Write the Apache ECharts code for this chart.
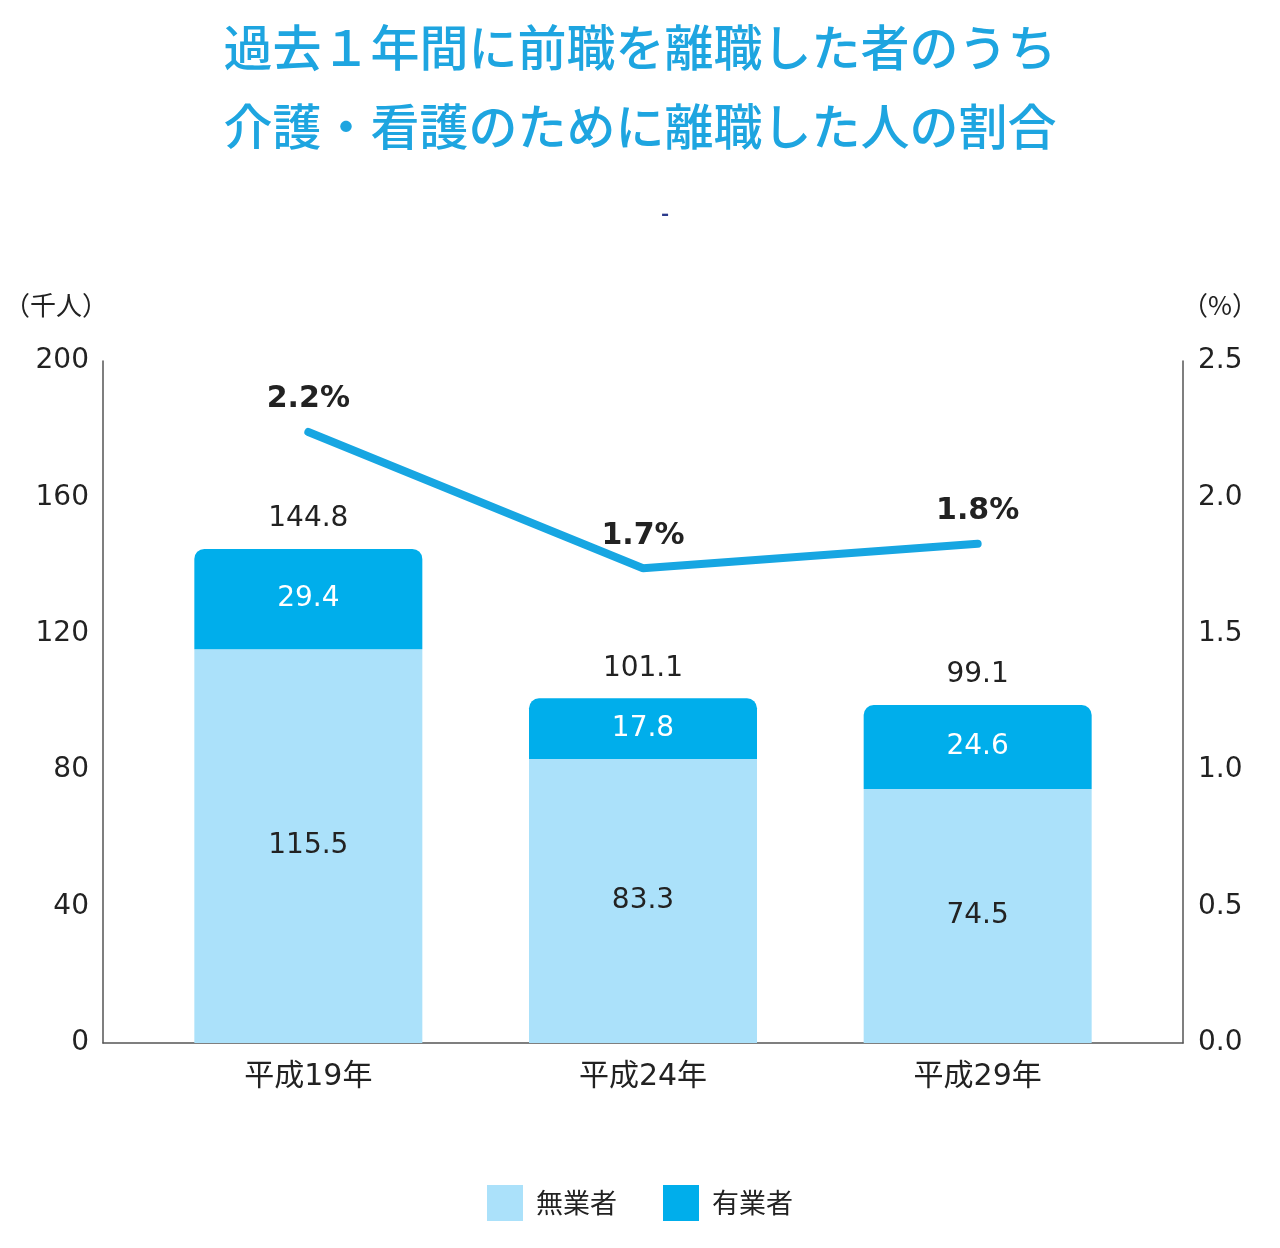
<!DOCTYPE html>
<html>
<head>
<meta charset="utf-8">
<script src="https://cdn.jsdelivr.net/npm/echarts@6/dist/echarts.min.js"></script>
<style>
  html, body { margin: 0; padding: 0; background: #fff; }
  #chart { width: 1280px; height: 1248px; }
</style>
</head>
<body>
<div id="chart"></div>
<script>
// data
const years = ['平成19年', '平成24年', '平成29年'];
const mugyo = [115.5, 83.3, 74.5];   // 無業者 (千人)
const yugyo = [29.4, 17.8, 24.6];    // 有業者 (千人)
const ratio = [2.24, 1.74, 1.83];    // 割合 (%)
const totals = [144.8, 101.1, 99.1];

const jp = '"Noto Sans CJK JP", "Noto Sans", sans-serif';
const num = '"DejaVu Sans", "Noto Sans CJK JP", sans-serif';
const chart = echarts.init(document.getElementById('chart'));

const option = {
  textStyle: { fontFamily: num },
  title: {
    text: '過去１年間に前職を離職した者のうち\n介護・看護のために離職した人の割合',
    left: 'center', top: 3,
    textStyle: { color: '#1ea5e0', fontSize: 49, fontWeight: 500, lineHeight: 79, fontFamily: jp }
  },
  legend: {
    bottom: 22, left: 'center',
    data: ['無業者', '有業者'],
    icon: 'rect', itemWidth: 36, itemHeight: 36, itemGap: 46,
    textStyle: { fontSize: 27, color: '#222', padding: [0, 0, 0, 8], fontFamily: jp }
  },
  graphic: [
    { type: 'text', left: 4, top: 292, style: { text: '（千人）', fontSize: 26, fill: '#222', fontFamily: jp } },
    { type: 'text', left: 1182, top: 292, style: { text: '（%）', fontSize: 26, fill: '#222', fontFamily: jp } },
    { type: 'text', left: 661, top: 202, style: { text: '-', fontSize: 22, fill: '#2b3a8c', fontWeight: 'bold', fontFamily: jp } }
  ],
  grid: [
    { left: 103, right: 97, top: 361, bottom: 205 },
    { left: 141, right: 135, top: 361, bottom: 205 }
  ],
  xAxis: [
    {
      gridIndex: 0, type: 'value', min: 0, max: 1,
      axisLine: { show: true, lineStyle: { color: '#555', width: 1.5 } },
      axisTick: { show: false }, axisLabel: { show: false }, splitLine: { show: false }
    },
    {
      gridIndex: 1, type: 'category', data: years,
      axisLine: { show: false }, axisTick: { show: false },
      axisLabel: { fontSize: 30, color: '#222', margin: 19 }
    }
  ],
  yAxis: [
    {
      gridIndex: 0, type: 'value', min: 0, max: 200, interval: 40,
      axisLine: { show: true, lineStyle: { color: '#555', width: 1.5 } },
      axisTick: { show: false }, splitLine: { show: false },
      axisLabel: { fontSize: 28, color: '#222', margin: 14, padding: [6, 0, 0, 0] }
    },
    {
      gridIndex: 0, type: 'value', min: 0, max: 2.5, interval: 0.5, position: 'right',
      axisLine: { show: true, lineStyle: { color: '#555', width: 1.5 } },
      axisTick: { show: false }, splitLine: { show: false },
      axisLabel: { fontSize: 28, color: '#222', margin: 15, padding: [6, 0, 0, 0], formatter: v => v.toFixed(1) }
    },
    { gridIndex: 1, type: 'value', min: 0, max: 200, show: false, splitLine: { show: false } },
    { gridIndex: 1, type: 'value', min: 0, max: 2.5, show: false, splitLine: { show: false } }
  ],
  series: [
    {
      name: '無業者', type: 'bar', stack: 'total', xAxisIndex: 1, yAxisIndex: 2,
      data: mugyo, barWidth: 228,
      itemStyle: { color: '#abe1fa' },
      label: { show: true, position: 'inside', fontSize: 28, color: '#222' }
    },
    {
      name: '有業者', type: 'bar', stack: 'total', xAxisIndex: 1, yAxisIndex: 2,
      data: yugyo, barWidth: 228,
      itemStyle: { color: '#00aeeb', borderRadius: [10, 10, 0, 0] },
      label: { show: true, position: 'inside', fontSize: 28, color: '#fff' }
    },
    {
      name: '合計', type: 'bar', stack: 'total', xAxisIndex: 1, yAxisIndex: 2,
      data: totals.map(() => 0), barWidth: 228,
      itemStyle: { color: 'transparent' },
      label: {
        show: true, position: 'top', distance: 16, fontSize: 28, color: '#222',
        formatter: p => totals[p.dataIndex].toFixed(1)
      }
    },
    {
      name: '割合', type: 'line', xAxisIndex: 1, yAxisIndex: 3,
      data: ratio, showSymbol: true, symbol: 'circle', symbolSize: 1,
      lineStyle: { color: '#17a6e2', width: 8, cap: 'round' },
      itemStyle: { color: '#17a6e2' },
      label: {
        show: true, position: 'top', distance: 17, fontSize: 30, fontWeight: 'bold', color: '#222',
        formatter: p => p.value.toFixed(1) + '%'
      },
      z: 5
    }
  ]
};
chart.setOption(option);
</script>
</body>
</html>
